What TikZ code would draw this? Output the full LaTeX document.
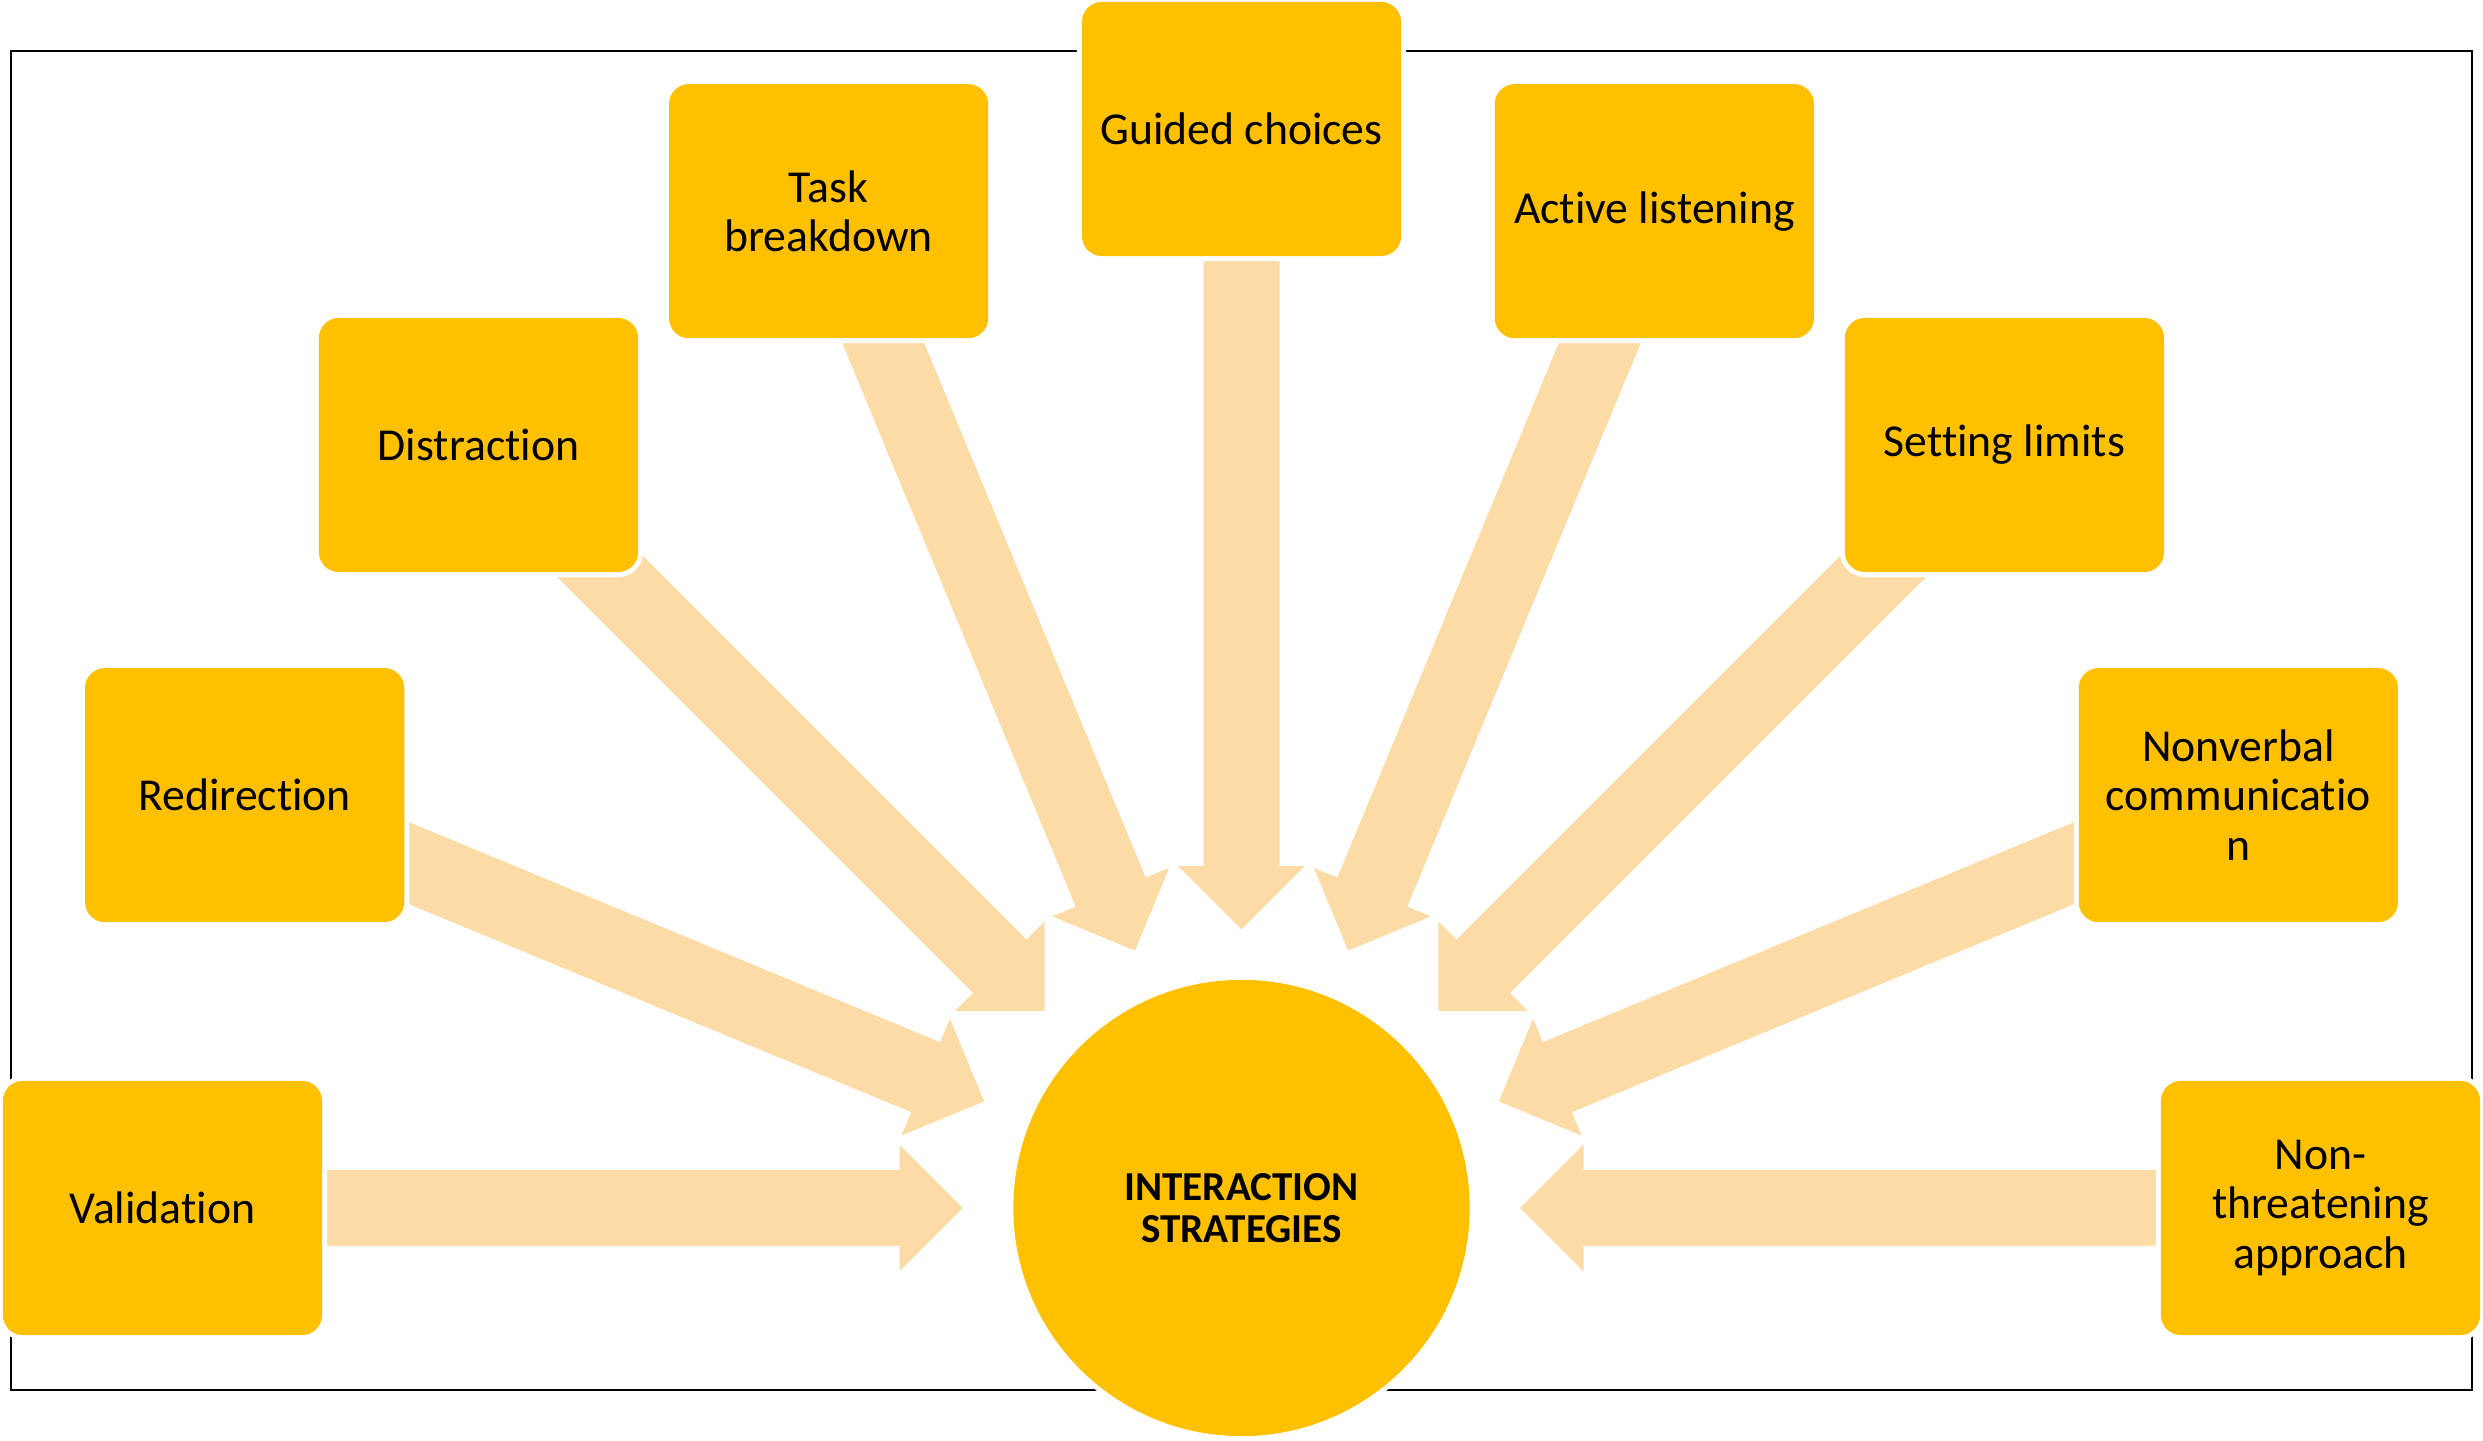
\documentclass[tikz,border=0pt]{standalone}
\usepackage{fontspec}
\setmainfont{Carlito}[RawFeature={-liga;-clig;-dlig;-calt}]
\definecolor{gold}{HTML}{FFC000}
\definecolor{peach}{HTML}{FDDBA6}
\begin{document}
\begin{tikzpicture}[x=0.01cm,y=0.01cm,
  box/.style={rectangle, rounded corners=0.2cm, minimum width=3.19cm, minimum height=2.54cm,
    fill=gold, preaction={draw=white, line width=0.1cm}, align=center, inner sep=0pt,
    font=\fontsize{13pt}{14pt}\selectfont, text=black},
  hub/.style={circle, minimum size=4.56cm, inner sep=0pt, fill=gold,
    preaction={draw=white, line width=0.1cm}, align=center,
    font=\bfseries\fontsize{11.7pt}{12pt}\selectfont, text=black},
  blockarrow/.style={fill=peach, draw=white, line width=0.02cm}]
\useasboundingbox (0,0) rectangle (2483,1440);
\draw[line width=0.8pt] (11,50) rectangle (2472,1389);
\coordinate (ctr) at (1241.5,232);
\foreach \a in {0,22.5,45,67.5,90,112.5,135,157.5,180}{
  \fill[blockarrow, shift={(ctr)}, rotate=\a]
    (277,0) -- (343,66) -- (343,39) -- (1000,39) -- (1000,-39) -- (343,-39) -- (343,-66) -- cycle;
}
\node[hub] (c) at (ctr) {INTERACTION\\STRATEGIES};
\node[box] (val) at ([shift={(180:1079)}]ctr) {Validation};
\node[box] (red) at ([shift={(157.5:1079)}]ctr) {Redirection};
\node[box] (dis) at ([shift={(135:1079)}]ctr) {Distraction};
\node[box] (task) at ([shift={(112.5:1079)}]ctr) {Task\\breakdown};
\node[box] (gui) at ([shift={(90:1079)}]ctr) {Guided choices};
\node[box] (act) at ([shift={(67.5:1079)}]ctr) {Active listening};
\node[box] (set) at ([shift={(45:1079)}]ctr) {Setting limits};
\node[box] (non) at ([shift={(22.5:1079)}]ctr) {Nonverbal\\communicatio\\n};
\node[box] (thr) at ([shift={(0:1079)}]ctr) {Non-\\threatening\\approach};
\end{tikzpicture}
\end{document}
